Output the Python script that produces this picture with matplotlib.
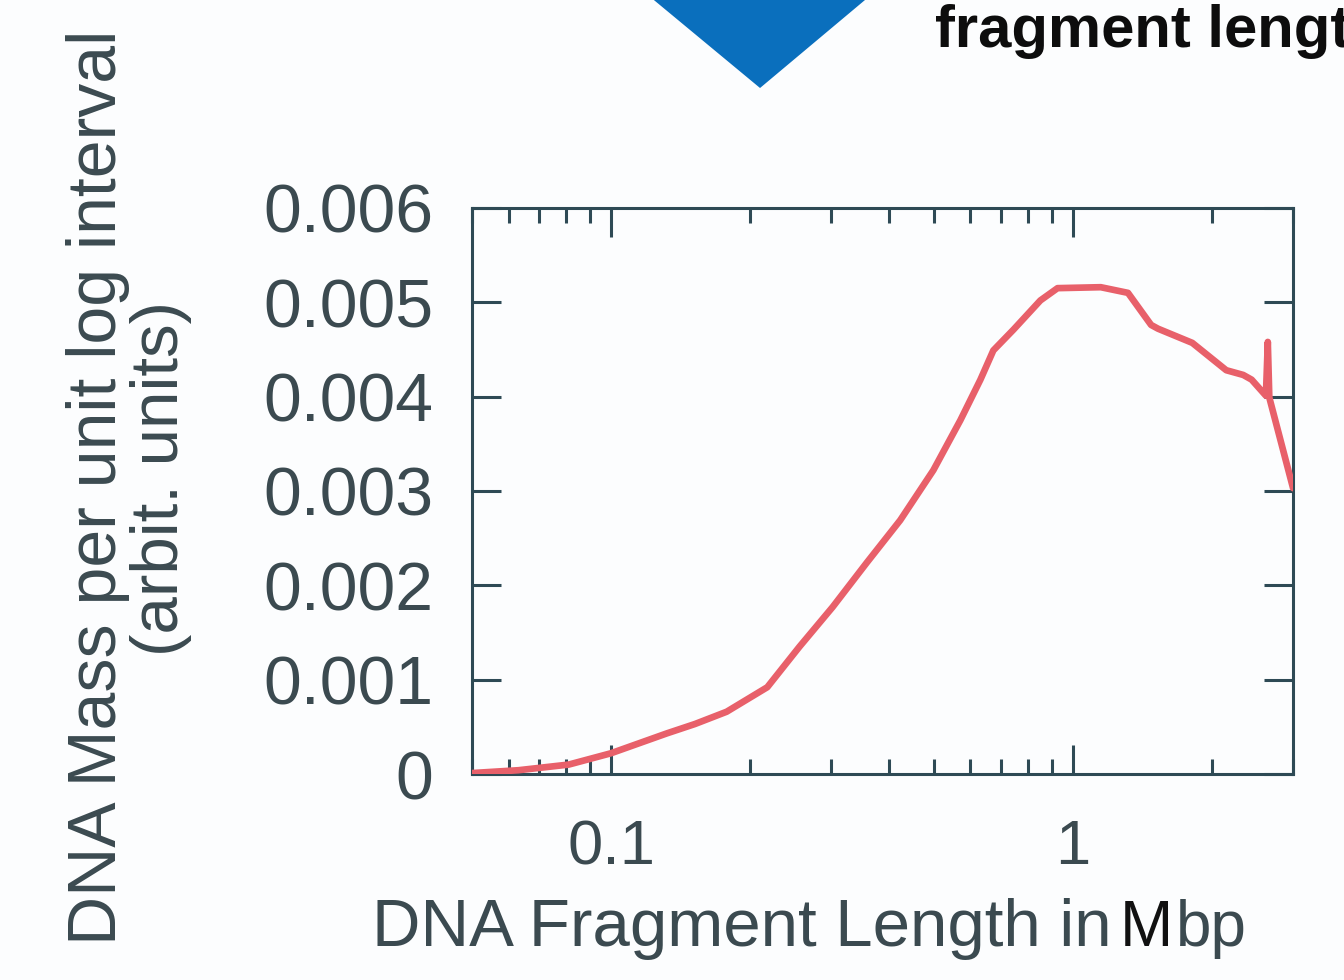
#!/usr/bin/env python3

import matplotlib
matplotlib.use("Agg")
import matplotlib.pyplot as plt
from matplotlib.patches import Polygon
from matplotlib.ticker import FixedLocator, FuncFormatter, LogLocator, NullFormatter


# fragment length (Mbp) vs DNA mass per unit log interval
fragment_mbp = [0.05, 0.063, 0.081, 0.1, 0.132, 0.152, 0.178, 0.218, 0.256, 0.302,
                0.358, 0.423, 0.499, 0.571, 0.631, 0.673, 0.744, 0.851, 0.927, 1.15,
                1.317, 1.478, 1.53, 1.815, 2.15, 2.34, 2.44, 2.62, 2.645, 2.665, 3.0]
dna_mass = [0.00001, 0.00004, 0.0001, 0.00022, 0.00043, 0.00053, 0.00066, 0.00092,
            0.00135, 0.00177, 0.00224, 0.00269, 0.00322, 0.00375, 0.00418, 0.00449,
            0.00471, 0.00502, 0.00515, 0.00516, 0.0051, 0.00476, 0.00472, 0.00457,
            0.00428, 0.00423, 0.00418, 0.00401, 0.00458, 0.00399, 0.00303]

y_ticks = [0, 0.001, 0.002, 0.003, 0.004, 0.005, 0.006]
x_ticks = [0.1, 1]

SPINE = "#2e4a55"
TEXT = "#3b4a50"
LINE = "#e8606a"
BG = "#fcfdfe"

plt.rcParams["font.family"] = ["Liberation Sans", "DejaVu Sans"]

fig = plt.figure(figsize=(13.44, 9.8), dpi=100, facecolor=BG)
ax = fig.add_axes([0.3512, 0.2102, 0.6109, 0.5776])
ax.set_facecolor(BG)

ax.plot(fragment_mbp, dna_mass, color=LINE, lw=4.8, solid_joinstyle="round",
        solid_capstyle="round", zorder=3)

ax.set_xscale("log")
ax.set_xlim(0.05, 3.0)
ax.set_ylim(0, 0.006)

ax.xaxis.set_major_locator(FixedLocator(x_ticks))
ax.xaxis.set_major_formatter(FuncFormatter(lambda v, _: f"{v:g}"))
ax.xaxis.set_minor_locator(LogLocator(base=10, subs=range(2, 10), numticks=20))
ax.xaxis.set_minor_formatter(NullFormatter())
ax.yaxis.set_major_locator(FixedLocator(y_ticks))
ax.yaxis.set_major_formatter(FuncFormatter(lambda v, _: "0" if v == 0 else f"{v:.3f}"))

for side in ax.spines.values():
    side.set_color(SPINE)
    side.set_linewidth(2.2)

ax.tick_params(which="both", direction="in", top=True, right=True, color=SPINE, width=2.2)
ax.tick_params(which="major", length=21)
ax.tick_params(which="minor", length=10.5)
ax.tick_params(axis="y", labelsize=49, labelcolor=TEXT, pad=28)
ax.tick_params(axis="x", labelsize=45.5, labelcolor=TEXT, pad=32)

# axis titles, placed as in the source figure
fig.text(0.277, 0.035, "DNA Fragment Length in", fontsize=48.4, color=TEXT,
         ha="left", va="baseline")
m_txt = fig.text(0.833, 0.035, "M", fontsize=46, color="#111111",
                 ha="left", va="baseline")
ax.annotate("bp", xy=(1, 0), xycoords=m_txt, xytext=(2, 0), textcoords="offset points",
            fontsize=46, color=TEXT, ha="left", va="bottom", annotation_clip=False)

fig.text(0.073, 0.503, "DNA Mass per unit log interval", fontsize=49, color=TEXT,
         rotation=90, ha="center", va="center")
fig.text(0.120, 0.512, "(arbit. units)", fontsize=48.5, color=TEXT,
         rotation=90, ha="center", va="center")

# cut-off pieces of the surrounding diagram
fig.text(0.696, 0.952, "fragment length", fontsize=43, fontweight="bold",
         color="#0d0d0d", ha="left", va="baseline")
tri = Polygon([(0.4865, 1.0), (0.6436, 1.0), (0.5655, 0.9102)], closed=True,
              transform=fig.transFigure, facecolor="#0a6fbd", edgecolor="none")
fig.patches.append(tri)

fig.savefig("out.png", dpi=100, facecolor=BG)
